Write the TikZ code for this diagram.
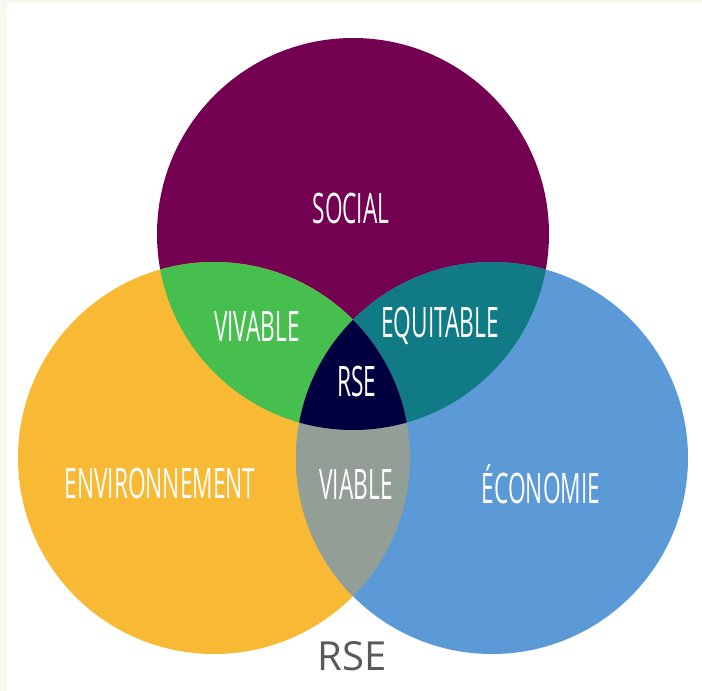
\documentclass[tikz,border=0pt]{standalone}
\usepackage{fontspec}
\newfontfamily\handfont[FakeStretch=0.54]{Open Sans}
\newfontfamily\titlefont{Open Sans}
\definecolor{cream}{HTML}{FAF7EE}
\definecolor{socialpurple}{HTML}{730050}
\definecolor{envorange}{HTML}{F8B934}
\definecolor{ecoblue}{HTML}{5B9AD6}
\definecolor{vivgreen}{HTML}{46BF4E}
\definecolor{equteal}{HTML}{107A85}
\definecolor{viagray}{HTML}{929E96}
\definecolor{rsenavy}{HTML}{000040}
\definecolor{titlegray}{HTML}{58595B}
\begin{document}
\begin{tikzpicture}[x=1pt,y=-1pt,
  lbl/.style={text=white,inner sep=0pt,font=\handfont\fontsize{42}{42}\selectfont}]
\useasboundingbox (0,0) rectangle (702,691);
\fill[cream] (0,0) rectangle (702,691);
\fill[white] (7,3) rectangle (702,691);
% circle centres
\coordinate (soc) at (353,234);
\coordinate (env) at (214,458);
\coordinate (eco) at (492,458);
\fill[socialpurple] (soc) circle (196);
\fill[envorange] (env) circle (196);
\fill[ecoblue] (eco) circle (196);
% overlaps
\begin{scope}
\clip (soc) circle (196);
\fill[vivgreen] (env) circle (196);
\fill[equteal] (eco) circle (196);
\end{scope}
\begin{scope}
\clip (env) circle (196);
\fill[viagray] (eco) circle (196);
\clip (eco) circle (196);
\fill[rsenavy] (soc) circle (196);
\end{scope}
% labels
\node[lbl] (social) at (351,208) {SOCIAL};
\node[lbl] (vivable) at (257,326) {VIVABLE};
\node[lbl] (equitable) at (440,326) {EQUITABLE};
\node[lbl] (rse) at (357,381) {RSE};
\node[lbl] (environnement) at (160,483) {ENVIRONNEMENT};
\node[lbl] (viable) at (356,484) {VIABLE};
\node[lbl] (economie) at (541,484) {ÉCONOMIE};
\node[text=titlegray,inner sep=0pt,font=\titlefont\fontsize{40}{40}\selectfont] (title) at (352,656) {RSE};
\end{tikzpicture}
\end{document}
